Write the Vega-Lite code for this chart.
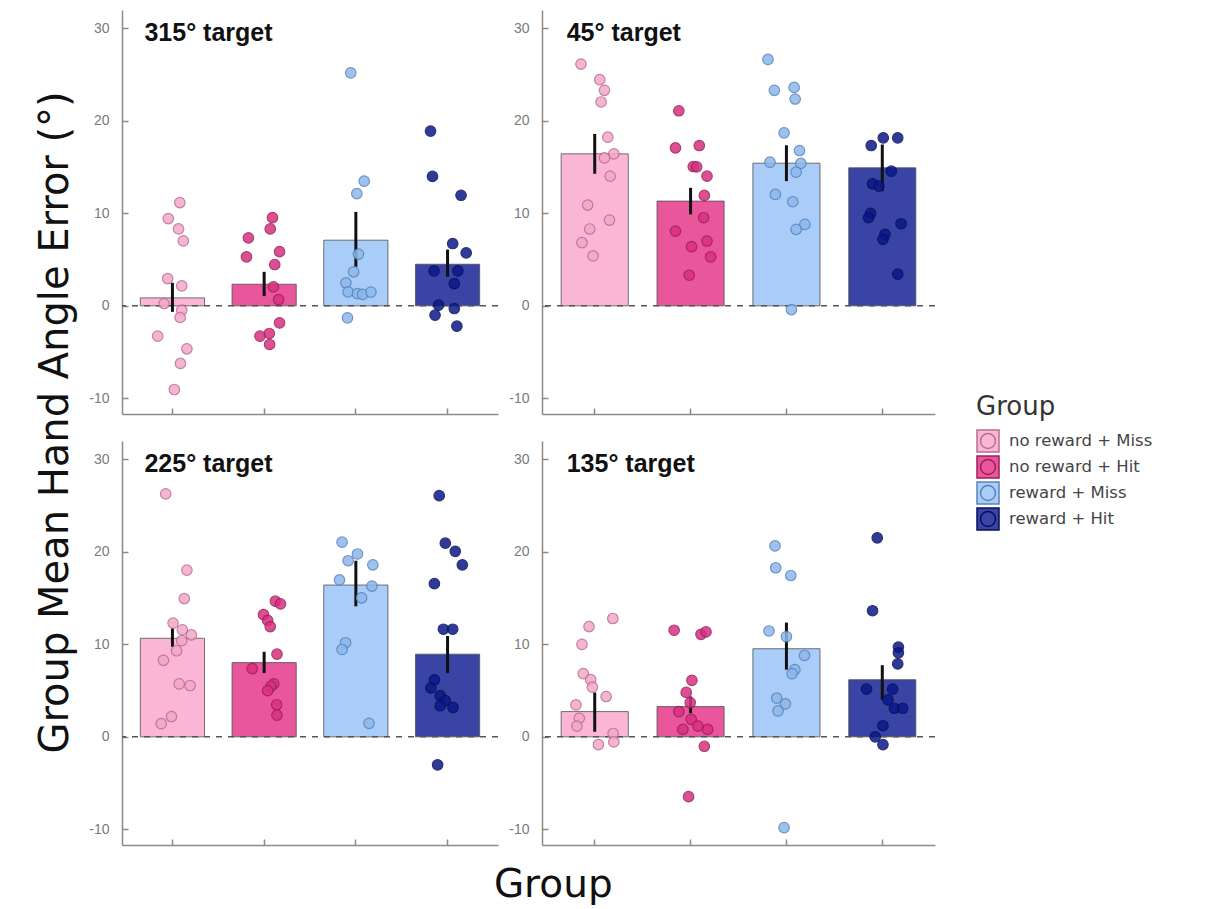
{
 "$schema": "https://vega.github.io/schema/vega-lite/v6.json",
 "background": "white",
 "padding": {"left": 35, "top": 10, "right": 5, "bottom": 5},
 "config": {
  "font": "Liberation Sans",
  "view": {"stroke": null},
  "axis": {"grid": false, "domainColor": "#8a8a8a", "tickColor": "#8a8a8a", "labelColor": "#7a7a7a", "labelFontSize": 14, "domainWidth": 1.5, "tickWidth": 1.5}
 },
 "title": {"text": "Group Mean Hand Angle Error (°)", "orient": "left", "font": "DejaVu Sans", "fontSize": 40, "fontWeight": "normal", "color": "#111", "anchor": "middle", "offset": 13, "dx": 35},
 "data": {"values": [
  {"target":"315° target","group":"no reward + Miss","kind":"bar","mean":0.86,"low":-0.65,"high":2.49},
  {"target":"315° target","group":"no reward + Hit","kind":"bar","mean":2.34,"low":1.05,"high":3.68},
  {"target":"315° target","group":"reward + Miss","kind":"bar","mean":7.10,"low":4.22,"high":10.16},
  {"target":"315° target","group":"reward + Hit","kind":"bar","mean":4.50,"low":3.14,"high":6.09},
  {"target":"45° target","group":"no reward + Miss","kind":"bar","mean":16.44,"low":14.28,"high":18.6},
  {"target":"45° target","group":"no reward + Hit","kind":"bar","mean":11.33,"low":9.89,"high":12.77},
  {"target":"45° target","group":"reward + Miss","kind":"bar","mean":15.43,"low":13.49,"high":17.37},
  {"target":"45° target","group":"reward + Hit","kind":"bar","mean":14.93,"low":12.41,"high":17.45},
  {"target":"225° target","group":"no reward + Miss","kind":"bar","mean":10.66,"low":9.74,"high":11.75},
  {"target":"225° target","group":"no reward + Hit","kind":"bar","mean":8.03,"low":6.9,"high":9.2},
  {"target":"225° target","group":"reward + Miss","kind":"bar","mean":16.42,"low":14.12,"high":19.05},
  {"target":"225° target","group":"reward + Hit","kind":"bar","mean":8.94,"low":6.9,"high":10.91},
  {"target":"135° target","group":"no reward + Miss","kind":"bar","mean":2.73,"low":0.55,"high":4.8},
  {"target":"135° target","group":"no reward + Hit","kind":"bar","mean":3.27,"low":2.55,"high":4.36},
  {"target":"135° target","group":"reward + Miss","kind":"bar","mean":9.53,"low":7.27,"high":12.36},
  {"target":"135° target","group":"reward + Hit","kind":"bar","mean":6.18,"low":4.0,"high":7.75},

  {"target":"315° target","group":"no reward + Miss","kind":"pt","value":11.17,"jitter":0.23},
  {"target":"315° target","group":"no reward + Miss","kind":"pt","value":9.44,"jitter":-0.13},
  {"target":"315° target","group":"no reward + Miss","kind":"pt","value":8.32,"jitter":0.19},
  {"target":"315° target","group":"no reward + Miss","kind":"pt","value":7.03,"jitter":0.34},
  {"target":"315° target","group":"no reward + Miss","kind":"pt","value":2.95,"jitter":-0.15},
  {"target":"315° target","group":"no reward + Miss","kind":"pt","value":2.16,"jitter":0.29},
  {"target":"315° target","group":"no reward + Miss","kind":"pt","value":0.25,"jitter":-0.26},
  {"target":"315° target","group":"no reward + Miss","kind":"pt","value":-0.47,"jitter":0.29},
  {"target":"315° target","group":"no reward + Miss","kind":"pt","value":-1.26,"jitter":0.24},
  {"target":"315° target","group":"no reward + Miss","kind":"pt","value":-3.28,"jitter":-0.46},
  {"target":"315° target","group":"no reward + Miss","kind":"pt","value":-4.65,"jitter":0.45},
  {"target":"315° target","group":"no reward + Miss","kind":"pt","value":-6.23,"jitter":0.25},
  {"target":"315° target","group":"no reward + Miss","kind":"pt","value":-9.05,"jitter":0.06},
  {"target":"315° target","group":"no reward + Hit","kind":"pt","value":9.55,"jitter":0.26},
  {"target":"315° target","group":"no reward + Hit","kind":"pt","value":8.32,"jitter":0.19},
  {"target":"315° target","group":"no reward + Hit","kind":"pt","value":7.35,"jitter":-0.49},
  {"target":"315° target","group":"no reward + Hit","kind":"pt","value":5.87,"jitter":0.48},
  {"target":"315° target","group":"no reward + Hit","kind":"pt","value":5.30,"jitter":-0.55},
  {"target":"315° target","group":"no reward + Hit","kind":"pt","value":4.47,"jitter":0.33},
  {"target":"315° target","group":"no reward + Hit","kind":"pt","value":2.05,"jitter":0.29},
  {"target":"315° target","group":"no reward + Hit","kind":"pt","value":0.68,"jitter":0.45},
  {"target":"315° target","group":"no reward + Hit","kind":"pt","value":-1.84,"jitter":0.48},
  {"target":"315° target","group":"no reward + Hit","kind":"pt","value":-2.99,"jitter":0.16},
  {"target":"315° target","group":"no reward + Hit","kind":"pt","value":-3.28,"jitter":-0.13},
  {"target":"315° target","group":"no reward + Hit","kind":"pt","value":-4.18,"jitter":0.17},
  {"target":"315° target","group":"reward + Miss","kind":"pt","value":25.2,"jitter":-0.16},
  {"target":"315° target","group":"reward + Miss","kind":"pt","value":13.48,"jitter":0.26},
  {"target":"315° target","group":"reward + Miss","kind":"pt","value":12.14,"jitter":0.03},
  {"target":"315° target","group":"reward + Miss","kind":"pt","value":5.59,"jitter":0.08},
  {"target":"315° target","group":"reward + Miss","kind":"pt","value":3.68,"jitter":-0.07},
  {"target":"315° target","group":"reward + Miss","kind":"pt","value":2.49,"jitter":-0.31},
  {"target":"315° target","group":"reward + Miss","kind":"pt","value":1.51,"jitter":-0.24},
  {"target":"315° target","group":"reward + Miss","kind":"pt","value":1.33,"jitter":0.05},
  {"target":"315° target","group":"reward + Miss","kind":"pt","value":1.23,"jitter":0.21},
  {"target":"315° target","group":"reward + Miss","kind":"pt","value":1.48,"jitter":0.47},
  {"target":"315° target","group":"reward + Miss","kind":"pt","value":-1.30,"jitter":-0.26},
  {"target":"315° target","group":"reward + Hit","kind":"pt","value":18.9,"jitter":-0.53},
  {"target":"315° target","group":"reward + Hit","kind":"pt","value":14.0,"jitter":-0.47},
  {"target":"315° target","group":"reward + Hit","kind":"pt","value":11.96,"jitter":0.42},
  {"target":"315° target","group":"reward + Hit","kind":"pt","value":6.74,"jitter":0.16},
  {"target":"315° target","group":"reward + Hit","kind":"pt","value":5.73,"jitter":0.58},
  {"target":"315° target","group":"reward + Hit","kind":"pt","value":3.78,"jitter":-0.42},
  {"target":"315° target","group":"reward + Hit","kind":"pt","value":3.78,"jitter":0.32},
  {"target":"315° target","group":"reward + Hit","kind":"pt","value":2.41,"jitter":0.21},
  {"target":"315° target","group":"reward + Hit","kind":"pt","value":0.07,"jitter":-0.28},
  {"target":"315° target","group":"reward + Hit","kind":"pt","value":-0.29,"jitter":0.21},
  {"target":"315° target","group":"reward + Hit","kind":"pt","value":-1.01,"jitter":-0.39},
  {"target":"315° target","group":"reward + Hit","kind":"pt","value":-2.20,"jitter":0.29},

  {"target":"45° target","group":"no reward + Miss","kind":"pt","value":26.15,"jitter":-0.41},
  {"target":"45° target","group":"no reward + Miss","kind":"pt","value":24.46,"jitter":0.15},
  {"target":"45° target","group":"no reward + Miss","kind":"pt","value":23.31,"jitter":0.29},
  {"target":"45° target","group":"no reward + Miss","kind":"pt","value":22.05,"jitter":0.19},
  {"target":"45° target","group":"no reward + Miss","kind":"pt","value":18.24,"jitter":0.39},
  {"target":"45° target","group":"no reward + Miss","kind":"pt","value":16.44,"jitter":0.57},
  {"target":"45° target","group":"no reward + Miss","kind":"pt","value":16.0,"jitter":0.29},
  {"target":"45° target","group":"no reward + Miss","kind":"pt","value":14.03,"jitter":0.46},
  {"target":"45° target","group":"no reward + Miss","kind":"pt","value":10.90,"jitter":-0.21},
  {"target":"45° target","group":"no reward + Miss","kind":"pt","value":9.28,"jitter":0.44},
  {"target":"45° target","group":"no reward + Miss","kind":"pt","value":8.31,"jitter":-0.15},
  {"target":"45° target","group":"no reward + Miss","kind":"pt","value":6.83,"jitter":-0.38},
  {"target":"45° target","group":"no reward + Miss","kind":"pt","value":5.40,"jitter":-0.05},
  {"target":"45° target","group":"no reward + Hit","kind":"pt","value":21.1,"jitter":-0.35},
  {"target":"45° target","group":"no reward + Hit","kind":"pt","value":17.09,"jitter":-0.45},
  {"target":"45° target","group":"no reward + Hit","kind":"pt","value":17.34,"jitter":0.26},
  {"target":"45° target","group":"no reward + Hit","kind":"pt","value":15.07,"jitter":0.08},
  {"target":"45° target","group":"no reward + Hit","kind":"pt","value":15.04,"jitter":0.18},
  {"target":"45° target","group":"no reward + Hit","kind":"pt","value":14.03,"jitter":0.49},
  {"target":"45° target","group":"no reward + Hit","kind":"pt","value":11.94,"jitter":0.41},
  {"target":"45° target","group":"no reward + Hit","kind":"pt","value":9.53,"jitter":0.39},
  {"target":"45° target","group":"no reward + Hit","kind":"pt","value":8.09,"jitter":-0.45},
  {"target":"45° target","group":"no reward + Hit","kind":"pt","value":7.01,"jitter":0.49},
  {"target":"45° target","group":"no reward + Hit","kind":"pt","value":6.40,"jitter":0.03},
  {"target":"45° target","group":"no reward + Hit","kind":"pt","value":5.29,"jitter":0.60},
  {"target":"45° target","group":"no reward + Hit","kind":"pt","value":3.31,"jitter":-0.04},
  {"target":"45° target","group":"reward + Miss","kind":"pt","value":26.65,"jitter":-0.55},
  {"target":"45° target","group":"reward + Miss","kind":"pt","value":23.31,"jitter":-0.36},
  {"target":"45° target","group":"reward + Miss","kind":"pt","value":23.63,"jitter":0.23},
  {"target":"45° target","group":"reward + Miss","kind":"pt","value":22.37,"jitter":0.26},
  {"target":"45° target","group":"reward + Miss","kind":"pt","value":18.71,"jitter":-0.07},
  {"target":"45° target","group":"reward + Miss","kind":"pt","value":16.80,"jitter":0.39},
  {"target":"45° target","group":"reward + Miss","kind":"pt","value":15.54,"jitter":-0.49},
  {"target":"45° target","group":"reward + Miss","kind":"pt","value":15.40,"jitter":0.43},
  {"target":"45° target","group":"reward + Miss","kind":"pt","value":14.46,"jitter":0.29},
  {"target":"45° target","group":"reward + Miss","kind":"pt","value":12.05,"jitter":-0.33},
  {"target":"45° target","group":"reward + Miss","kind":"pt","value":11.26,"jitter":0.19},
  {"target":"45° target","group":"reward + Miss","kind":"pt","value":8.81,"jitter":0.55},
  {"target":"45° target","group":"reward + Miss","kind":"pt","value":8.27,"jitter":0.29},
  {"target":"45° target","group":"reward + Miss","kind":"pt","value":-0.40,"jitter":0.15},
  {"target":"45° target","group":"reward + Hit","kind":"pt","value":17.34,"jitter":-0.33},
  {"target":"45° target","group":"reward + Hit","kind":"pt","value":18.17,"jitter":0.03},
  {"target":"45° target","group":"reward + Hit","kind":"pt","value":18.17,"jitter":0.46},
  {"target":"45° target","group":"reward + Hit","kind":"pt","value":14.57,"jitter":0.27},
  {"target":"45° target","group":"reward + Hit","kind":"pt","value":13.20,"jitter":-0.29},
  {"target":"45° target","group":"reward + Hit","kind":"pt","value":12.95,"jitter":-0.10},
  {"target":"45° target","group":"reward + Hit","kind":"pt","value":10.0,"jitter":-0.35},
  {"target":"45° target","group":"reward + Hit","kind":"pt","value":9.53,"jitter":-0.41},
  {"target":"45° target","group":"reward + Hit","kind":"pt","value":8.88,"jitter":0.56},
  {"target":"45° target","group":"reward + Hit","kind":"pt","value":7.73,"jitter":0.08},
  {"target":"45° target","group":"reward + Hit","kind":"pt","value":7.19,"jitter":0.02},
  {"target":"45° target","group":"reward + Hit","kind":"pt","value":3.42,"jitter":0.46},

  {"target":"225° target","group":"no reward + Miss","kind":"pt","value":26.28,"jitter":-0.21},
  {"target":"225° target","group":"no reward + Miss","kind":"pt","value":18.03,"jitter":0.45},
  {"target":"225° target","group":"no reward + Miss","kind":"pt","value":14.96,"jitter":0.37},
  {"target":"225° target","group":"no reward + Miss","kind":"pt","value":12.30,"jitter":0.02},
  {"target":"225° target","group":"no reward + Miss","kind":"pt","value":11.57,"jitter":0.31},
  {"target":"225° target","group":"no reward + Miss","kind":"pt","value":11.02,"jitter":0.59},
  {"target":"225° target","group":"no reward + Miss","kind":"pt","value":10.40,"jitter":0.29},
  {"target":"225° target","group":"no reward + Miss","kind":"pt","value":9.31,"jitter":0.13},
  {"target":"225° target","group":"no reward + Miss","kind":"pt","value":8.28,"jitter":-0.28},
  {"target":"225° target","group":"no reward + Miss","kind":"pt","value":5.73,"jitter":0.21},
  {"target":"225° target","group":"no reward + Miss","kind":"pt","value":5.55,"jitter":0.55},
  {"target":"225° target","group":"no reward + Miss","kind":"pt","value":2.19,"jitter":-0.03},
  {"target":"225° target","group":"no reward + Miss","kind":"pt","value":1.42,"jitter":-0.35},
  {"target":"225° target","group":"no reward + Hit","kind":"pt","value":14.67,"jitter":0.35},
  {"target":"225° target","group":"no reward + Hit","kind":"pt","value":14.38,"jitter":0.51},
  {"target":"225° target","group":"no reward + Hit","kind":"pt","value":13.21,"jitter":-0.02},
  {"target":"225° target","group":"no reward + Hit","kind":"pt","value":12.59,"jitter":0.11},
  {"target":"225° target","group":"no reward + Hit","kind":"pt","value":11.93,"jitter":0.19},
  {"target":"225° target","group":"no reward + Hit","kind":"pt","value":8.94,"jitter":0.40},
  {"target":"225° target","group":"no reward + Hit","kind":"pt","value":7.37,"jitter":-0.37},
  {"target":"225° target","group":"no reward + Hit","kind":"pt","value":5.73,"jitter":0.30},
  {"target":"225° target","group":"no reward + Hit","kind":"pt","value":5.47,"jitter":0.21},
  {"target":"225° target","group":"no reward + Hit","kind":"pt","value":5.0,"jitter":0.11},
  {"target":"225° target","group":"no reward + Hit","kind":"pt","value":3.47,"jitter":0.39},
  {"target":"225° target","group":"no reward + Hit","kind":"pt","value":2.34,"jitter":0.40},
  {"target":"225° target","group":"reward + Miss","kind":"pt","value":21.06,"jitter":-0.43},
  {"target":"225° target","group":"reward + Miss","kind":"pt","value":19.05,"jitter":-0.24},
  {"target":"225° target","group":"reward + Miss","kind":"pt","value":19.78,"jitter":0.05},
  {"target":"225° target","group":"reward + Miss","kind":"pt","value":18.61,"jitter":0.53},
  {"target":"225° target","group":"reward + Miss","kind":"pt","value":16.97,"jitter":-0.51},
  {"target":"225° target","group":"reward + Miss","kind":"pt","value":16.31,"jitter":0.50},
  {"target":"225° target","group":"reward + Miss","kind":"pt","value":15.04,"jitter":0.18},
  {"target":"225° target","group":"reward + Miss","kind":"pt","value":10.18,"jitter":-0.32},
  {"target":"225° target","group":"reward + Miss","kind":"pt","value":9.45,"jitter":-0.43},
  {"target":"225° target","group":"reward + Miss","kind":"pt","value":1.46,"jitter":0.41},
  {"target":"225° target","group":"reward + Hit","kind":"pt","value":26.09,"jitter":-0.26},
  {"target":"225° target","group":"reward + Hit","kind":"pt","value":20.95,"jitter":-0.07},
  {"target":"225° target","group":"reward + Hit","kind":"pt","value":20.07,"jitter":0.24},
  {"target":"225° target","group":"reward + Hit","kind":"pt","value":18.61,"jitter":0.46},
  {"target":"225° target","group":"reward + Hit","kind":"pt","value":16.57,"jitter":-0.41},
  {"target":"225° target","group":"reward + Hit","kind":"pt","value":11.64,"jitter":-0.13},
  {"target":"225° target","group":"reward + Hit","kind":"pt","value":11.64,"jitter":0.16},
  {"target":"225° target","group":"reward + Hit","kind":"pt","value":6.17,"jitter":-0.41},
  {"target":"225° target","group":"reward + Hit","kind":"pt","value":5.29,"jitter":-0.52},
  {"target":"225° target","group":"reward + Hit","kind":"pt","value":4.45,"jitter":-0.23},
  {"target":"225° target","group":"reward + Hit","kind":"pt","value":3.91,"jitter":-0.07},
  {"target":"225° target","group":"reward + Hit","kind":"pt","value":3.36,"jitter":-0.23},
  {"target":"225° target","group":"reward + Hit","kind":"pt","value":3.18,"jitter":0.17},
  {"target":"225° target","group":"reward + Hit","kind":"pt","value":-3.03,"jitter":-0.31},

  {"target":"135° target","group":"no reward + Miss","kind":"pt","value":12.80,"jitter":0.54},
  {"target":"135° target","group":"no reward + Miss","kind":"pt","value":11.93,"jitter":-0.17},
  {"target":"135° target","group":"no reward + Miss","kind":"pt","value":10.0,"jitter":-0.38},
  {"target":"135° target","group":"no reward + Miss","kind":"pt","value":6.84,"jitter":-0.34},
  {"target":"135° target","group":"no reward + Miss","kind":"pt","value":6.18,"jitter":-0.12},
  {"target":"135° target","group":"no reward + Miss","kind":"pt","value":5.38,"jitter":-0.07},
  {"target":"135° target","group":"no reward + Miss","kind":"pt","value":4.36,"jitter":0.34},
  {"target":"135° target","group":"no reward + Miss","kind":"pt","value":3.45,"jitter":-0.56},
  {"target":"135° target","group":"no reward + Miss","kind":"pt","value":2.0,"jitter":-0.46},
  {"target":"135° target","group":"no reward + Miss","kind":"pt","value":1.16,"jitter":-0.53},
  {"target":"135° target","group":"no reward + Miss","kind":"pt","value":0.36,"jitter":0.55},
  {"target":"135° target","group":"no reward + Miss","kind":"pt","value":-0.55,"jitter":0.57},
  {"target":"135° target","group":"no reward + Miss","kind":"pt","value":-0.84,"jitter":0.11},
  {"target":"135° target","group":"no reward + Hit","kind":"pt","value":11.53,"jitter":-0.49},
  {"target":"135° target","group":"no reward + Hit","kind":"pt","value":11.09,"jitter":0.31},
  {"target":"135° target","group":"no reward + Hit","kind":"pt","value":11.35,"jitter":0.46},
  {"target":"135° target","group":"no reward + Hit","kind":"pt","value":6.11,"jitter":0.04},
  {"target":"135° target","group":"no reward + Hit","kind":"pt","value":4.8,"jitter":-0.13},
  {"target":"135° target","group":"no reward + Hit","kind":"pt","value":3.71,"jitter":-0.01},
  {"target":"135° target","group":"no reward + Hit","kind":"pt","value":2.73,"jitter":-0.35},
  {"target":"135° target","group":"no reward + Hit","kind":"pt","value":1.89,"jitter":0.02},
  {"target":"135° target","group":"no reward + Hit","kind":"pt","value":1.16,"jitter":0.22},
  {"target":"135° target","group":"no reward + Hit","kind":"pt","value":0.80,"jitter":-0.23},
  {"target":"135° target","group":"no reward + Hit","kind":"pt","value":0.80,"jitter":0.51},
  {"target":"135° target","group":"no reward + Hit","kind":"pt","value":-1.02,"jitter":0.41},
  {"target":"135° target","group":"no reward + Hit","kind":"pt","value":-6.47,"jitter":-0.06},
  {"target":"135° target","group":"reward + Miss","kind":"pt","value":20.65,"jitter":-0.34},
  {"target":"135° target","group":"reward + Miss","kind":"pt","value":18.29,"jitter":-0.32},
  {"target":"135° target","group":"reward + Miss","kind":"pt","value":17.45,"jitter":0.13},
  {"target":"135° target","group":"reward + Miss","kind":"pt","value":11.45,"jitter":-0.52},
  {"target":"135° target","group":"reward + Miss","kind":"pt","value":10.84,"jitter":0.0},
  {"target":"135° target","group":"reward + Miss","kind":"pt","value":8.8,"jitter":0.54},
  {"target":"135° target","group":"reward + Miss","kind":"pt","value":7.27,"jitter":0.25},
  {"target":"135° target","group":"reward + Miss","kind":"pt","value":6.84,"jitter":0.17},
  {"target":"135° target","group":"reward + Miss","kind":"pt","value":4.18,"jitter":-0.29},
  {"target":"135° target","group":"reward + Miss","kind":"pt","value":3.56,"jitter":-0.03},
  {"target":"135° target","group":"reward + Miss","kind":"pt","value":2.8,"jitter":-0.25},
  {"target":"135° target","group":"reward + Miss","kind":"pt","value":-9.82,"jitter":-0.07},
  {"target":"135° target","group":"reward + Hit","kind":"pt","value":21.53,"jitter":-0.15},
  {"target":"135° target","group":"reward + Hit","kind":"pt","value":13.64,"jitter":-0.29},
  {"target":"135° target","group":"reward + Hit","kind":"pt","value":9.71,"jitter":0.48},
  {"target":"135° target","group":"reward + Hit","kind":"pt","value":9.09,"jitter":0.48},
  {"target":"135° target","group":"reward + Hit","kind":"pt","value":7.89,"jitter":0.46},
  {"target":"135° target","group":"reward + Hit","kind":"pt","value":5.16,"jitter":-0.47},
  {"target":"135° target","group":"reward + Hit","kind":"pt","value":5.16,"jitter":0.31},
  {"target":"135° target","group":"reward + Hit","kind":"pt","value":4.0,"jitter":0.17},
  {"target":"135° target","group":"reward + Hit","kind":"pt","value":3.09,"jitter":0.36},
  {"target":"135° target","group":"reward + Hit","kind":"pt","value":3.09,"jitter":0.61},
  {"target":"135° target","group":"reward + Hit","kind":"pt","value":1.2,"jitter":0.02},
  {"target":"135° target","group":"reward + Hit","kind":"pt","value":0.0,"jitter":-0.21},
  {"target":"135° target","group":"reward + Hit","kind":"pt","value":-0.84,"jitter":0.02}
 ]},
 "vconcat": [{
  "title": {"text": "Group", "orient": "bottom", "font": "DejaVu Sans", "fontSize": 39, "fontWeight": "normal", "color": "#111", "anchor": "middle", "offset": 20, "dx": 41},
  "spacing": 26,
  "vconcat": [
   {"spacing": 9, "hconcat": [
    {"width": 376, "height": 404,
     "transform": [{"filter": "datum.target == '315° target'"}],
     "resolve": {"scale": {"xOffset": "independent"}},
     "encoding": {"x": {"field": "group", "type": "nominal", "sort": ["no reward + Miss", "no reward + Hit", "reward + Miss", "reward + Hit"], "scale": {"paddingInner": 0.3, "paddingOuter": 0.2}, "axis": {"title": null, "labels": false, "tickSize": -6}}},
     "layer": [
      {"transform": [{"filter": "datum.kind == 'bar'"}],
       "mark": {"type": "bar", "stroke": "#505050", "strokeWidth": 1, "strokeOpacity": 0.8},
       "encoding": {
        "y": {"field": "mean", "type": "quantitative", "scale": {"domain": [-11.7, 32], "nice": false, "zero": false}, "axis": {"title": null, "values": [-10, 0, 10, 20, 30], "tickSize": -6, "labelPadding": 19, "labelExpr": "datum.value < 0 ? '-' + abs(datum.value) : datum.label"}},
        "color": {"field": "group", "type": "nominal", "sort": ["no reward + Miss", "no reward + Hit", "reward + Miss", "reward + Hit"],
          "scale": {"domain": ["no reward + Miss", "no reward + Hit", "reward + Miss", "reward + Hit"], "range": ["#fbb6d6", "#e9569c", "#a9cdf8", "#3a44a5"]},
          "legend": {"title": "Group", "orient": "none", "legendX": 854, "legendY": 384,
            "titleFont": "DejaVu Sans", "titleFontSize": 26, "titleFontWeight": "normal", "titleColor": "#333", "titlePadding": 9,
            "labelFont": "DejaVu Sans", "labelFontSize": 16.5, "labelColor": "#444", "labelOffset": 9,
            "symbolType": "M-1,-1H1V1H-1Z M0.68,0 A0.68,0.68 0 1,1 -0.68,0 A0.68,0.68 0 1,1 0.68,0 Z",
            "symbolSize": 484, "symbolStrokeColor": "#333", "symbolStrokeWidth": 1.5, "symbolOpacity": 1, "rowPadding": -2}}}},
      {"transform": [{"filter": "datum.kind == 'bar' && datum.group == 'no reward + Miss'"}],
       "mark": {"type": "rule", "strokeDash": [6, 6], "color": "#555", "strokeWidth": 1.5},
       "encoding": {"y": {"datum": 0, "type": "quantitative"}, "x": null}},
      {"transform": [{"filter": "datum.kind == 'bar'"}],
       "mark": {"type": "rule", "color": "#111", "strokeWidth": 3},
       "encoding": {"y": {"field": "low", "type": "quantitative"}, "y2": {"field": "high"}}},
      {"transform": [{"filter": "datum.kind == 'pt'"}],
       "mark": {"type": "circle", "size": 110, "strokeWidth": 1.2, "opacity": 0.85},
       "encoding": {
        "xOffset": {"field": "jitter", "type": "quantitative", "scale": {"domain": [-1, 1]}},
        "y": {"field": "value", "type": "quantitative"},
        "fill": {"field": "group", "type": "nominal", "legend": null, "scale": {"domain": ["no reward + Miss", "no reward + Hit", "reward + Miss", "reward + Hit"], "range": ["#f4a7c9", "#d9307f", "#8cb8ee", "#0b1889"]}},
        "stroke": {"field": "group", "type": "nominal", "legend": null, "scale": {"domain": ["no reward + Miss", "no reward + Hit", "reward + Miss", "reward + Hit"], "range": ["#b86d90", "#9c1f5a", "#5a82b8", "#07105a"]}}}},
      {"transform": [{"filter": "datum.kind == 'bar' && datum.group == 'no reward + Miss'"}],
       "mark": {"type": "text", "align": "left", "baseline": "middle", "dx": -28, "dy": 5, "fontSize": 25, "fontWeight": "bold", "color": "#111"},
       "encoding": {"y": {"datum": 30, "type": "quantitative"}, "text": {"field": "target"}}}
     ]},
    {"width": 393, "height": 404,
     "transform": [{"filter": "datum.target == '45° target'"}],
     "resolve": {"scale": {"xOffset": "independent"}},
     "encoding": {"x": {"field": "group", "type": "nominal", "sort": ["no reward + Miss", "no reward + Hit", "reward + Miss", "reward + Hit"], "scale": {"paddingInner": 0.3, "paddingOuter": 0.2}, "axis": {"title": null, "labels": false, "tickSize": -6}}},
     "layer": [
      {"transform": [{"filter": "datum.kind == 'bar'"}],
       "mark": {"type": "bar", "stroke": "#505050", "strokeWidth": 1, "strokeOpacity": 0.8},
       "encoding": {
        "y": {"field": "mean", "type": "quantitative", "scale": {"domain": [-11.7, 32], "nice": false, "zero": false}, "axis": {"title": null, "values": [-10, 0, 10, 20, 30], "tickSize": -6, "labelPadding": 19, "labelExpr": "datum.value < 0 ? '-' + abs(datum.value) : datum.label"}},
        "color": {"field": "group", "type": "nominal", "sort": ["no reward + Miss", "no reward + Hit", "reward + Miss", "reward + Hit"],
          "scale": {"domain": ["no reward + Miss", "no reward + Hit", "reward + Miss", "reward + Hit"], "range": ["#fbb6d6", "#e9569c", "#a9cdf8", "#3a44a5"]},
          "legend": {"title": "Group", "orient": "none", "legendX": 854, "legendY": 384,
            "titleFont": "DejaVu Sans", "titleFontSize": 26, "titleFontWeight": "normal", "titleColor": "#333", "titlePadding": 9,
            "labelFont": "DejaVu Sans", "labelFontSize": 16.5, "labelColor": "#444", "labelOffset": 9,
            "symbolType": "M-1,-1H1V1H-1Z M0.68,0 A0.68,0.68 0 1,1 -0.68,0 A0.68,0.68 0 1,1 0.68,0 Z",
            "symbolSize": 484, "symbolStrokeColor": "#333", "symbolStrokeWidth": 1.5, "symbolOpacity": 1, "rowPadding": -2}}}},
      {"transform": [{"filter": "datum.kind == 'bar' && datum.group == 'no reward + Miss'"}],
       "mark": {"type": "rule", "strokeDash": [6, 6], "color": "#555", "strokeWidth": 1.5},
       "encoding": {"y": {"datum": 0, "type": "quantitative"}, "x": null}},
      {"transform": [{"filter": "datum.kind == 'bar'"}],
       "mark": {"type": "rule", "color": "#111", "strokeWidth": 3},
       "encoding": {"y": {"field": "low", "type": "quantitative"}, "y2": {"field": "high"}}},
      {"transform": [{"filter": "datum.kind == 'pt'"}],
       "mark": {"type": "circle", "size": 110, "strokeWidth": 1.2, "opacity": 0.85},
       "encoding": {
        "xOffset": {"field": "jitter", "type": "quantitative", "scale": {"domain": [-1, 1]}},
        "y": {"field": "value", "type": "quantitative"},
        "fill": {"field": "group", "type": "nominal", "legend": null, "scale": {"domain": ["no reward + Miss", "no reward + Hit", "reward + Miss", "reward + Hit"], "range": ["#f4a7c9", "#d9307f", "#8cb8ee", "#0b1889"]}},
        "stroke": {"field": "group", "type": "nominal", "legend": null, "scale": {"domain": ["no reward + Miss", "no reward + Hit", "reward + Miss", "reward + Hit"], "range": ["#b86d90", "#9c1f5a", "#5a82b8", "#07105a"]}}}},
      {"transform": [{"filter": "datum.kind == 'bar' && datum.group == 'no reward + Miss'"}],
       "mark": {"type": "text", "align": "left", "baseline": "middle", "dx": -28, "dy": 5, "fontSize": 25, "fontWeight": "bold", "color": "#111"},
       "encoding": {"y": {"datum": 30, "type": "quantitative"}, "text": {"field": "target"}}}
     ]}
   ]},
   {"spacing": 9, "hconcat": [
    {"width": 376, "height": 404,
     "transform": [{"filter": "datum.target == '225° target'"}],
     "resolve": {"scale": {"xOffset": "independent"}},
     "encoding": {"x": {"field": "group", "type": "nominal", "sort": ["no reward + Miss", "no reward + Hit", "reward + Miss", "reward + Hit"], "scale": {"paddingInner": 0.3, "paddingOuter": 0.2}, "axis": {"title": null, "labels": false, "tickSize": -6}}},
     "layer": [
      {"transform": [{"filter": "datum.kind == 'bar'"}],
       "mark": {"type": "bar", "stroke": "#505050", "strokeWidth": 1, "strokeOpacity": 0.8},
       "encoding": {
        "y": {"field": "mean", "type": "quantitative", "scale": {"domain": [-11.7, 32], "nice": false, "zero": false}, "axis": {"title": null, "values": [-10, 0, 10, 20, 30], "tickSize": -6, "labelPadding": 19, "labelExpr": "datum.value < 0 ? '-' + abs(datum.value) : datum.label"}},
        "color": {"field": "group", "type": "nominal", "sort": ["no reward + Miss", "no reward + Hit", "reward + Miss", "reward + Hit"],
          "scale": {"domain": ["no reward + Miss", "no reward + Hit", "reward + Miss", "reward + Hit"], "range": ["#fbb6d6", "#e9569c", "#a9cdf8", "#3a44a5"]},
          "legend": {"title": "Group", "orient": "none", "legendX": 854, "legendY": 384,
            "titleFont": "DejaVu Sans", "titleFontSize": 26, "titleFontWeight": "normal", "titleColor": "#333", "titlePadding": 9,
            "labelFont": "DejaVu Sans", "labelFontSize": 16.5, "labelColor": "#444", "labelOffset": 9,
            "symbolType": "M-1,-1H1V1H-1Z M0.68,0 A0.68,0.68 0 1,1 -0.68,0 A0.68,0.68 0 1,1 0.68,0 Z",
            "symbolSize": 484, "symbolStrokeColor": "#333", "symbolStrokeWidth": 1.5, "symbolOpacity": 1, "rowPadding": -2}}}},
      {"transform": [{"filter": "datum.kind == 'bar' && datum.group == 'no reward + Miss'"}],
       "mark": {"type": "rule", "strokeDash": [6, 6], "color": "#555", "strokeWidth": 1.5},
       "encoding": {"y": {"datum": 0, "type": "quantitative"}, "x": null}},
      {"transform": [{"filter": "datum.kind == 'bar'"}],
       "mark": {"type": "rule", "color": "#111", "strokeWidth": 3},
       "encoding": {"y": {"field": "low", "type": "quantitative"}, "y2": {"field": "high"}}},
      {"transform": [{"filter": "datum.kind == 'pt'"}],
       "mark": {"type": "circle", "size": 110, "strokeWidth": 1.2, "opacity": 0.85},
       "encoding": {
        "xOffset": {"field": "jitter", "type": "quantitative", "scale": {"domain": [-1, 1]}},
        "y": {"field": "value", "type": "quantitative"},
        "fill": {"field": "group", "type": "nominal", "legend": null, "scale": {"domain": ["no reward + Miss", "no reward + Hit", "reward + Miss", "reward + Hit"], "range": ["#f4a7c9", "#d9307f", "#8cb8ee", "#0b1889"]}},
        "stroke": {"field": "group", "type": "nominal", "legend": null, "scale": {"domain": ["no reward + Miss", "no reward + Hit", "reward + Miss", "reward + Hit"], "range": ["#b86d90", "#9c1f5a", "#5a82b8", "#07105a"]}}}},
      {"transform": [{"filter": "datum.kind == 'bar' && datum.group == 'no reward + Miss'"}],
       "mark": {"type": "text", "align": "left", "baseline": "middle", "dx": -28, "dy": 5, "fontSize": 25, "fontWeight": "bold", "color": "#111"},
       "encoding": {"y": {"datum": 30, "type": "quantitative"}, "text": {"field": "target"}}}
     ]},
    {"width": 393, "height": 404,
     "transform": [{"filter": "datum.target == '135° target'"}],
     "resolve": {"scale": {"xOffset": "independent"}},
     "encoding": {"x": {"field": "group", "type": "nominal", "sort": ["no reward + Miss", "no reward + Hit", "reward + Miss", "reward + Hit"], "scale": {"paddingInner": 0.3, "paddingOuter": 0.2}, "axis": {"title": null, "labels": false, "tickSize": -6}}},
     "layer": [
      {"transform": [{"filter": "datum.kind == 'bar'"}],
       "mark": {"type": "bar", "stroke": "#505050", "strokeWidth": 1, "strokeOpacity": 0.8},
       "encoding": {
        "y": {"field": "mean", "type": "quantitative", "scale": {"domain": [-11.7, 32], "nice": false, "zero": false}, "axis": {"title": null, "values": [-10, 0, 10, 20, 30], "tickSize": -6, "labelPadding": 19, "labelExpr": "datum.value < 0 ? '-' + abs(datum.value) : datum.label"}},
        "color": {"field": "group", "type": "nominal", "sort": ["no reward + Miss", "no reward + Hit", "reward + Miss", "reward + Hit"],
          "scale": {"domain": ["no reward + Miss", "no reward + Hit", "reward + Miss", "reward + Hit"], "range": ["#fbb6d6", "#e9569c", "#a9cdf8", "#3a44a5"]},
          "legend": {"title": "Group", "orient": "none", "legendX": 854, "legendY": 384,
            "titleFont": "DejaVu Sans", "titleFontSize": 26, "titleFontWeight": "normal", "titleColor": "#333", "titlePadding": 9,
            "labelFont": "DejaVu Sans", "labelFontSize": 16.5, "labelColor": "#444", "labelOffset": 9,
            "symbolType": "M-1,-1H1V1H-1Z M0.68,0 A0.68,0.68 0 1,1 -0.68,0 A0.68,0.68 0 1,1 0.68,0 Z",
            "symbolSize": 484, "symbolStrokeColor": "#333", "symbolStrokeWidth": 1.5, "symbolOpacity": 1, "rowPadding": -2}}}},
      {"transform": [{"filter": "datum.kind == 'bar' && datum.group == 'no reward + Miss'"}],
       "mark": {"type": "rule", "strokeDash": [6, 6], "color": "#555", "strokeWidth": 1.5},
       "encoding": {"y": {"datum": 0, "type": "quantitative"}, "x": null}},
      {"transform": [{"filter": "datum.kind == 'bar'"}],
       "mark": {"type": "rule", "color": "#111", "strokeWidth": 3},
       "encoding": {"y": {"field": "low", "type": "quantitative"}, "y2": {"field": "high"}}},
      {"transform": [{"filter": "datum.kind == 'pt'"}],
       "mark": {"type": "circle", "size": 110, "strokeWidth": 1.2, "opacity": 0.85},
       "encoding": {
        "xOffset": {"field": "jitter", "type": "quantitative", "scale": {"domain": [-1, 1]}},
        "y": {"field": "value", "type": "quantitative"},
        "fill": {"field": "group", "type": "nominal", "legend": null, "scale": {"domain": ["no reward + Miss", "no reward + Hit", "reward + Miss", "reward + Hit"], "range": ["#f4a7c9", "#d9307f", "#8cb8ee", "#0b1889"]}},
        "stroke": {"field": "group", "type": "nominal", "legend": null, "scale": {"domain": ["no reward + Miss", "no reward + Hit", "reward + Miss", "reward + Hit"], "range": ["#b86d90", "#9c1f5a", "#5a82b8", "#07105a"]}}}},
      {"transform": [{"filter": "datum.kind == 'bar' && datum.group == 'no reward + Miss'"}],
       "mark": {"type": "text", "align": "left", "baseline": "middle", "dx": -28, "dy": 5, "fontSize": 25, "fontWeight": "bold", "color": "#111"},
       "encoding": {"y": {"datum": 30, "type": "quantitative"}, "text": {"field": "target"}}}
     ]}
   ]}
  ]
 }]
}
